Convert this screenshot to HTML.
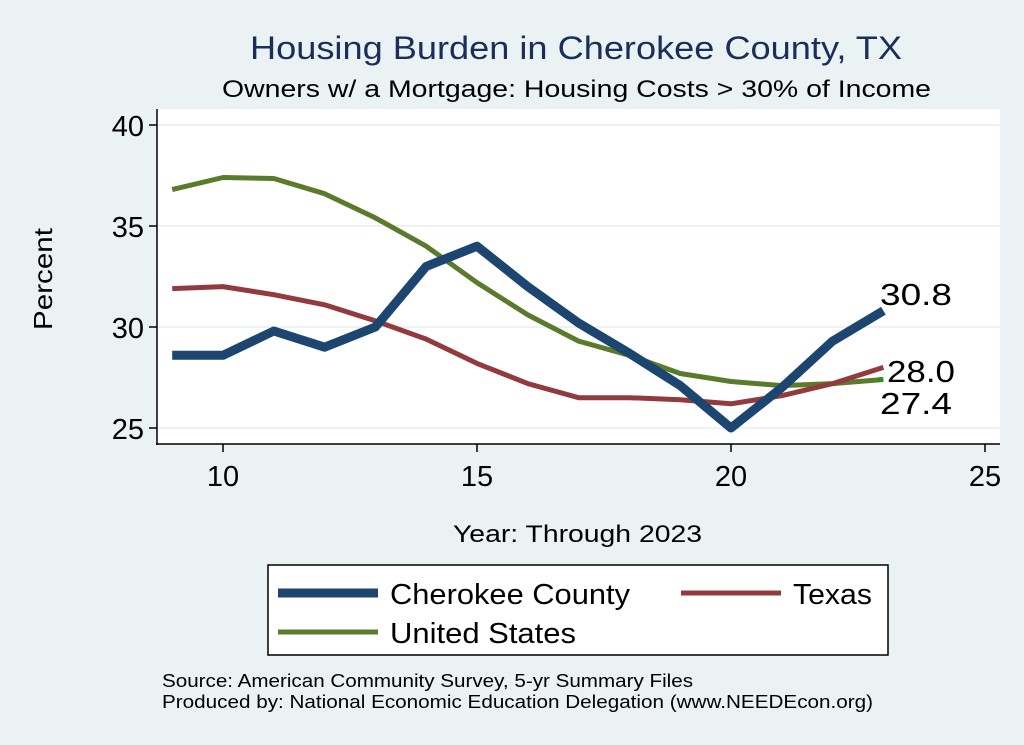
<!DOCTYPE html>
<html><head><meta charset="utf-8"><style>
html,body{margin:0;padding:0;background:#eaf2f3;}
svg{display:block;font-family:"Liberation Sans",sans-serif;}
</style></head><body>
<svg width="1024" height="745" viewBox="0 0 1024 745">
<rect width="1024" height="745" fill="#eaf2f3"/>
<rect x="157" y="109" width="843" height="335" fill="#fff"/>
<g stroke="#eaf2f3" stroke-width="2">
<line x1="158" x2="1000" y1="125" y2="125"/><line x1="158" x2="1000" y1="226" y2="226"/>
<line x1="158" x2="1000" y1="327" y2="327"/><line x1="158" x2="1000" y1="428" y2="428"/>
</g>
<g stroke="#000" stroke-width="1.5">
<line x1="157" y1="109" x2="157" y2="445"/><line x1="156" y1="444" x2="1000" y2="444"/>
<line x1="149" x2="157" y1="125" y2="125"/><line x1="149" x2="157" y1="226" y2="226"/>
<line x1="149" x2="157" y1="327" y2="327"/><line x1="149" x2="157" y1="428" y2="428"/>
<line x1="223" x2="223" y1="444" y2="452"/><line x1="477" x2="477" y1="444" y2="452"/>
<line x1="731" x2="731" y1="444" y2="452"/><line x1="985" x2="985" y1="444" y2="452"/>
</g>
<g font-size="29" fill="#000" text-anchor="end">
<text x="144" y="136">40</text><text x="144" y="237">35</text><text x="144" y="338">30</text><text x="144" y="439">25</text>
</g>
<g font-size="29" fill="#000" text-anchor="middle">
<text x="223" y="486">10</text><text x="477" y="486">15</text><text x="731" y="486">20</text><text x="985" y="486">25</text>
</g>
<text x="250" y="59" font-size="32" fill="#1a2e5a" textLength="652" lengthAdjust="spacingAndGlyphs">Housing Burden in Cherokee County, TX</text>
<text x="222" y="97" font-size="24" fill="#000" textLength="709" lengthAdjust="spacingAndGlyphs">Owners w/ a Mortgage: Housing Costs &gt; 30% of Income</text>
<text x="453" y="542" font-size="24" textLength="249" lengthAdjust="spacingAndGlyphs">Year: Through 2023</text>
<text transform="translate(52,330) rotate(-90)" font-size="26" textLength="102" lengthAdjust="spacingAndGlyphs">Percent</text>
<g fill="none" stroke-linejoin="round">
<polyline stroke="#5a7a2c" stroke-width="5" points="172.2,189.6 223,177.5 273.8,178.5 324.6,193.7 375.4,217.9 426.2,246.2 477,282.6 527.8,314.9 578.6,341.1 629.4,355.3 680.2,373.5 731,381.5 781.8,385.6 832.6,383.6 883.4,379.5"/>
<polyline stroke="#933a3f" stroke-width="5" points="172.2,288.6 223,286.6 273.8,294.7 324.6,304.8 375.4,320.9 426.2,339.1 477,363.4 527.8,383.6 578.6,397.7 629.4,397.7 680.2,399.7 731,403.8 781.8,395.7 832.6,383.6 883.4,367.4"/>
<polyline stroke="#1c466f" stroke-width="9" points="172.2,355.3 223,355.3 273.8,331 324.6,347.2 375.4,327 426.2,266.4 477,246.2 527.8,286.6 578.6,323 629.4,353.3 680.2,385.6 731,428 781.8,387.6 832.6,341.1 883.4,310.8"/>
</g>
<circle cx="880" cy="379.5" r="2.5" fill="#1a9a1a"/>
<g font-size="31" fill="#000">
<text x="880" y="305" textLength="72" lengthAdjust="spacingAndGlyphs">30.8</text>
<text x="887" y="382" textLength="68" lengthAdjust="spacingAndGlyphs">28.0</text>
<text x="880" y="414" textLength="72" lengthAdjust="spacingAndGlyphs">27.4</text>
</g>
<rect x="268" y="565" width="620" height="90" fill="#fff" stroke="#000" stroke-width="1.5"/>
<line x1="278" x2="378" y1="593" y2="593" stroke="#1c466f" stroke-width="9"/>
<line x1="681" x2="781" y1="593" y2="593" stroke="#933a3f" stroke-width="5"/>
<line x1="278" x2="378" y1="632" y2="632" stroke="#5a7a2c" stroke-width="5"/>
<g font-size="29">
<text x="390" y="604" textLength="240" lengthAdjust="spacingAndGlyphs">Cherokee County</text>
<text x="793" y="604" textLength="79" lengthAdjust="spacingAndGlyphs">Texas</text>
<text x="390" y="643" textLength="186" lengthAdjust="spacingAndGlyphs">United States</text>
</g>
<g font-size="18">
<text x="162" y="687" textLength="531" lengthAdjust="spacingAndGlyphs">Source: American Community Survey, 5-yr Summary Files</text>
<text x="162" y="708" textLength="711" lengthAdjust="spacingAndGlyphs">Produced by: National Economic Education Delegation (www.NEEDEcon.org)</text>
</g>
</svg>
</body></html>
